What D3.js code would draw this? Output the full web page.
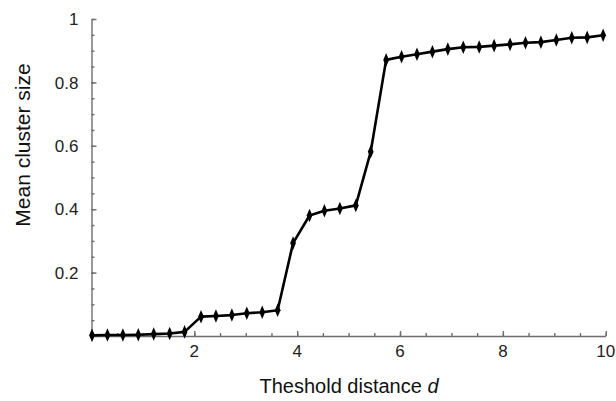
<!DOCTYPE html>
<html lang="en">
<head>
  <meta charset="UTF-8">
  <title>Mean cluster size vs threshold distance</title>
  <style>
    body {
      margin: 0;
      padding: 0;
      background-color: #ffffff;
    }

    svg {
      display: block;
      font-family: 'Liberation Sans', Arial, sans-serif;
    }

    .axis path,
    .axis line {
      stroke: #6e6e6e;
      stroke-width: 1.4px;
    }

    .axis text {
      font-size: 17px;
      fill: #222;
    }

    .series {
      fill: none;
      stroke: #000;
      stroke-width: 2.6px;
      stroke-linejoin: round;
    }

    .marker {
      fill: #000;
    }

    .label {
      font-size: 20px;
      fill: #111;
    }
  </style>
</head>
<body>
  <svg width="616" height="401"></svg>

  <script src="https://d3js.org/d3.v7.min.js"></script>
  <script>
    // threshold distance d
    const distances = [
      0.01, 0.31, 0.61, 0.91, 1.21, 1.52, 1.81, 2.13, 2.42, 2.73, 3.02, 3.32,
      3.62, 3.92, 4.24, 4.53, 4.83, 5.14, 5.43, 5.73, 6.03, 6.33, 6.63, 6.93,
      7.23, 7.54, 7.83, 8.14, 8.44, 8.74, 9.04, 9.34, 9.64, 9.95
    ];

    // mean cluster size at each distance
    const clusterSizes = [
      0.002, 0.003, 0.003, 0.004, 0.006, 0.008, 0.013, 0.061, 0.063, 0.066, 0.072, 0.075,
      0.081, 0.293, 0.380, 0.395, 0.402, 0.412, 0.581, 0.871, 0.881, 0.889, 0.897, 0.905,
      0.911, 0.912, 0.916, 0.920, 0.925, 0.927, 0.934, 0.941, 0.942, 0.949
    ];

    const xMajorTicks = [2, 4, 6, 8, 10];
    const yMajorTicks = [0.2, 0.4, 0.6, 0.8, 1];

    const svg = d3.select("svg");
    const margin = { top: 19, left: 91.5 };
    const plotW = 605.7 - margin.left;
    const plotH = 336 - margin.top;

    const x = d3.scaleLinear().domain([0, 10]).range([0, plotW]);
    const y = d3.scaleLinear().domain([0, 1]).range([plotH, 0]);

    const g = svg.append("g")
      .attr("transform", `translate(${margin.left},${margin.top})`);

    // minor ticks every 0.5 on x and 0.05 on y
    const xMinor = d3.range(0, 10.001, 0.5);
    const yMinor = d3.range(0, 1.0001, 0.05);

    g.append("g")
      .attr("class", "axis")
      .attr("transform", `translate(0,${plotH})`)
      .call(d3.axisTop(x).tickValues(xMinor).tickSize(3).tickSizeOuter(0).tickFormat(""));

    g.append("g")
      .attr("class", "axis")
      .attr("transform", `translate(0,${plotH})`)
      .call(d3.axisTop(x).tickValues(xMajorTicks).tickSize(5).tickSizeOuter(0).tickFormat(""))
      .select(".domain").remove();

    // x tick labels below the axis
    g.append("g")
      .attr("class", "axis")
      .selectAll("text")
      .data(xMajorTicks)
      .enter()
      .append("text")
      .attr("x", (d) => x(d))
      .attr("y", plotH + 21)
      .attr("text-anchor", "middle")
      .text((d) => d);

    g.append("g")
      .attr("class", "axis")
      .call(d3.axisRight(y).tickValues(yMinor).tickSize(3).tickSizeOuter(0).tickFormat(""));

    g.append("g")
      .attr("class", "axis")
      .call(d3.axisRight(y).tickValues(yMajorTicks).tickSize(5).tickSizeOuter(0).tickFormat(""))
      .select(".domain").remove();

    // y tick labels left of the axis
    g.append("g")
      .attr("class", "axis")
      .selectAll("text")
      .data(yMajorTicks)
      .enter()
      .append("text")
      .attr("x", -13)
      .attr("y", (d) => y(d))
      .attr("dy", "0.36em")
      .attr("text-anchor", "end")
      .text((d) => d);

    const points = distances.map((d, i) => ({ d: d, s: clusterSizes[i] }));

    const line = d3.line()
      .x((p) => x(p.d))
      .y((p) => y(p.s));

    g.append("path")
      .datum(points)
      .attr("class", "series")
      .attr("d", line);

    g.selectAll(".marker")
      .data(points)
      .enter()
      .append("path")
      .attr("class", "marker")
      .attr("d", d3.symbol().type(d3.symbolDiamond).size(40))
      .attr("transform", (p) => `translate(${x(p.d)},${y(p.s)}) scale(0.85,1.15)`);

    // axis titles
    svg.append("text")
      .attr("class", "label")
      .attr("x", 349)
      .attr("y", 393)
      .attr("text-anchor", "middle")
      .html("Theshold distance <tspan font-style='italic'>d</tspan>");

    svg.append("text")
      .attr("class", "label")
      .attr("transform", "translate(30,145) rotate(-90)")
      .attr("text-anchor", "middle")
      .style("font-size", "21px")
      .text("Mean cluster size");
  </script>
</body>
</html>
